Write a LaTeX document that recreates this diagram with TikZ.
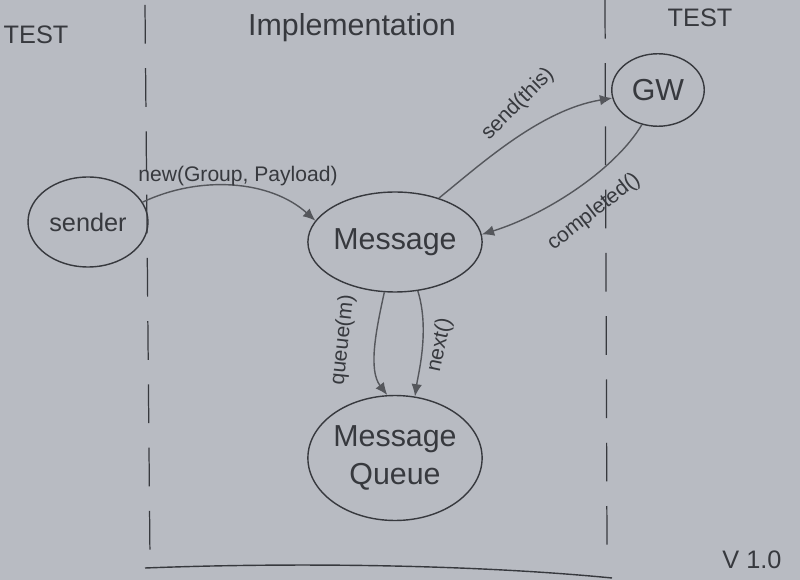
\documentclass[tikz,border=0pt]{standalone}
\usepackage{fontspec}
\setmainfont{Liberation Sans}
\usetikzlibrary{arrows.meta,shapes.geometric}
\definecolor{paper}{RGB}{184,187,194}
\definecolor{ink}{RGB}{55,57,62}
\definecolor{pencil}{RGB}{85,87,92}
\begin{document}
\begin{tikzpicture}[x=0.02cm,y=-0.02cm,
  state/.style={draw=ink,line width=0.8pt,ellipse,inner sep=0pt,text=ink,font=\LARGE,align=center},
  conn/.style={draw=pencil,line width=0.8pt,-{Latex[length=7pt,width=6pt]}},
  lab/.style={text=ink,font=\large},
  divider/.style={draw=ink,line width=0.7pt,dash pattern=on 22pt off 14pt},
  hdr/.style={text=ink,font=\Large}]
\fill[paper] (0,0) rectangle (800,580);
\useasboundingbox (0,0) rectangle (800,580);
% dividers
\coordinate (l1) at (145,5); \coordinate (l2) at (150,560);
\coordinate (r1) at (605,0); \coordinate (r2) at (607,550);
\draw[divider] (l1) -- (l2);
\draw[divider] (r1) -- (r2);
\coordinate (b1) at (145,568); \coordinate (b2) at (612,578);
\draw[ink,line width=0.8pt] (b1) .. controls (300,562) and (480,565) .. (b2);
% headers
\node[hdr] (t1) at (36,35) {TEST};
\node[hdr,font=\LARGE] (t2) at (352,28) {Implementation};
\node[hdr] (t3) at (700,18) {TEST};
\node[hdr] (ver) at (752,560) {V 1.0};
% nodes
\node[state,font=\Large,minimum width=2.4cm,minimum height=1.8cm] (sender) at (88,222) {sender};
\node[state,minimum width=3.4cm,minimum height=2cm] (msg) at (395,242) {Message};
\node[state,minimum width=1.85cm,minimum height=1.45cm] (gw) at (658,90) {GW};
\node[state,minimum width=3.35cm,minimum height=2.5cm] (mq) at (395,458) {Message\\Queue};
% connectors
\draw[conn] (sender.20) .. controls (200,175) and (270,180) .. (msg.165);
\draw[conn] (msg.45) .. controls (480,165) and (540,110) .. (gw.190);
\draw[conn] (gw.245) .. controls (615,170) and (545,215) .. (msg.5);
\draw[conn] (msg.258) .. controls (376,330) and (368,370) .. (mq.97);
\draw[conn] (msg.295) .. controls (430,330) and (418,375) .. (mq.72);
% labels
\node[lab] (lnew) at (238,176) {new(Group, Payload)};
\node[lab,rotate=45] (lsend) at (518,104) {send(this)};
\node[lab,rotate=38] (lcomp) at (594,212) {completed()};
\node[lab,rotate=84] (lq) at (343,340) {queue(m)};
\node[lab,rotate=78] (ln) at (440,345) {next()};
\end{tikzpicture}
\end{document}
